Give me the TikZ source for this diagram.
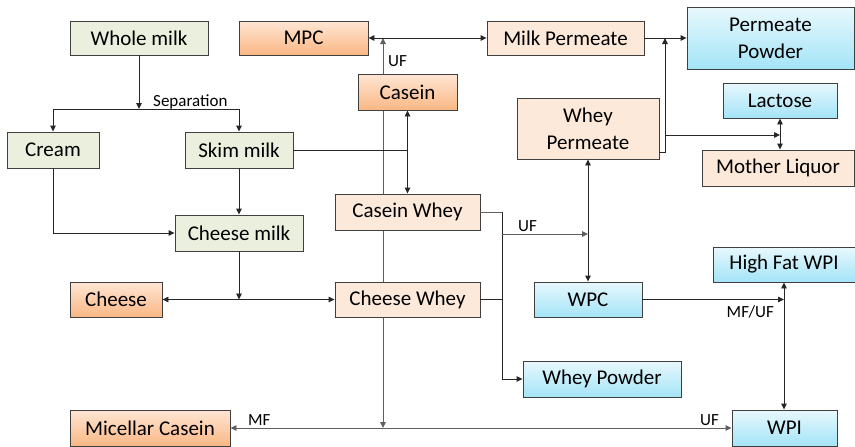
\documentclass[tikz,border=0pt]{standalone}
\usepackage{fontspec}
\setmainfont{Carlito}
\usetikzlibrary{arrows.meta,backgrounds,calc}
\definecolor{bordc}{HTML}{3F3F3F}
\definecolor{greenf}{HTML}{EBF0DE}
\definecolor{peachf}{HTML}{FDE9DA}
\definecolor{orangetop}{HTML}{FFE6D4}
\definecolor{orangebot}{HTML}{FAB784}
\definecolor{bluetop}{HTML}{E8F8FD}
\definecolor{bluebot}{HTML}{A3E4F7}
\definecolor{linegray}{HTML}{5F5F5F}
\tikzset{
  box/.style={draw=bordc, line width=0.9pt, inner sep=0pt, align=center,
    font=\fontsize{21}{27}\selectfont},
  greenbox/.style={box, fill=greenf},
  peachbox/.style={box, fill=peachf},
  orangebox/.style={box, top color=orangetop, bottom color=orangebot},
  bluebox/.style={box, top color=bluetop, bottom color=bluebot},
  lbl/.style={inner sep=0pt, font=\fontsize{17}{20}\selectfont},
  conn/.style={line width=0.9pt, draw=black!85},
  gconn/.style={line width=0.9pt, draw=linegray},
}
\begin{document}
\begin{tikzpicture}[x=1pt,y=-1pt, >={Triangle[length=6pt,width=5.5pt]}]
\useasboundingbox (0,0) rectangle (855,447);
% nodes
\node[greenbox, minimum width=138pt, minimum height=34pt] (whole) at (139,38) {Whole milk};
\node[orangebox, minimum width=129pt, minimum height=34pt] (mpc) at (303.5,38) {MPC};
\node[peachbox, minimum width=157pt, minimum height=34pt] (milkperm) at (565.5,38) {Milk Permeate};
\node[bluebox, minimum width=167pt, minimum height=62pt] (permpow) at (770.5,38) {Permeate\\Powder};
\node[bluebox, minimum width=114pt, minimum height=35pt] (lactose) at (780,100.5) {Lactose};
\node[peachbox, minimum width=142pt, minimum height=61pt] (wheyperm) at (588,128.5) {Whey\\Permeate};
\node[peachbox, minimum width=152pt, minimum height=36pt] (mother) at (778,168) {Mother Liquor};
\node[orangebox, minimum width=99pt, minimum height=36pt] (casein) at (407.5,92) {Casein};
\node[greenbox, minimum width=92pt, minimum height=36pt] (cream) at (53,150) {Cream};
\node[greenbox, minimum width=108pt, minimum height=36pt] (skim) at (239,150) {Skim milk};
\node[greenbox, minimum width=128pt, minimum height=36pt] (cheesemilk) at (239,233) {Cheese milk};
\node[orangebox, minimum width=92pt, minimum height=35pt] (cheese) at (116,299.5) {Cheese};
\node[orangebox, minimum width=160pt, minimum height=36pt] (micellar) at (150,428) {Micellar Casein};
\node[peachbox, minimum width=145pt, minimum height=36pt] (caseinwhey) at (407.5,212) {Casein Whey};
\node[peachbox, minimum width=145pt, minimum height=35pt] (cheesewhey) at (407.5,299.5) {Cheese Whey};
\node[bluebox, minimum width=108pt, minimum height=35pt] (wpc) at (588,299.5) {WPC};
\node[bluebox, minimum width=158pt, minimum height=36pt] (wheypow) at (602,379) {Whey Powder};
\node[bluebox, minimum width=142pt, minimum height=35pt] (highfat) at (784,264.5) {High Fat WPI};
\node[bluebox, minimum width=105pt, minimum height=36pt] (wpi) at (784.5,428) {WPI};
% junction coordinates
\coordinate (sep) at (139,109);
\coordinate (topj) at (383,38);
\coordinate (botj) at (383,428);
\coordinate (ppj) at (665,38);
\coordinate (lacj) at (665,135);
\coordinate (cwx) at (502,212);
\coordinate (ufj) at (502,234);
% connectors
\begin{pgfonlayer}{background}
\draw[gconn,<->] (botj) -- (topj);
\end{pgfonlayer}
\draw[conn,->] (whole.south) -- (sep);
\draw[conn,->] (sep) -| (cream.north);
\draw[conn,->] (sep) -| (skim.north);
\node[lbl, anchor=base west] at (153,106) {Separation};
\draw[conn,->] (cream.south) |- (cheesemilk.west);
\draw[conn,->] (skim.south) -- (cheesemilk.north);
\draw[conn,<->] (cheese.east) -- (cheesewhey.west);
\draw[conn,->] (cheesemilk.south) -- (cheesemilk.south |- cheese.east);
\draw[conn] (skim.east) -- (skim.east -| casein.south);
\draw[conn,<->] (casein.south) -- (caseinwhey.north);
\draw[conn,<->] (mpc.east) -- (milkperm.west);
\node[lbl, anchor=base west] at (388,66) {UF};
\draw[gconn,<->] (micellar.east) -- (wpi.west);
\node[lbl, anchor=base west] at (248,425) {MF};
\node[lbl, anchor=base east] at (719,425) {UF};
\draw[conn,->] (milkperm.east) -- (permpow.west);
\draw[conn,->] ([yshift=7pt]wheyperm.south east) -| (ppj);
\draw[conn,->] (lacj) -- (lacj -| lactose.south);
\draw[conn,<->] (lactose.south) -- (lactose.south |- mother.north);
\draw[conn,<->] (wheyperm.south) -- (wpc.north);
\draw[gconn] (caseinwhey.east) -- (cwx);
\draw[conn,->] (cwx) |- (wheypow.west);
\draw[conn] (cheesewhey.east) -- (cheesewhey.east -| cwx);
\draw[gconn,->] (ufj) -- (ufj -| wpc.north);
\node[lbl, anchor=base west] at (518,231) {UF};
\draw[conn,->] (wpc.east) -- (wpc.east -| highfat.south);
\draw[conn,<->] (highfat.south) -- (highfat.south |- wpi.north);
\node[lbl, anchor=north east] at (774,305) {MF/UF};
\end{tikzpicture}
\end{document}
